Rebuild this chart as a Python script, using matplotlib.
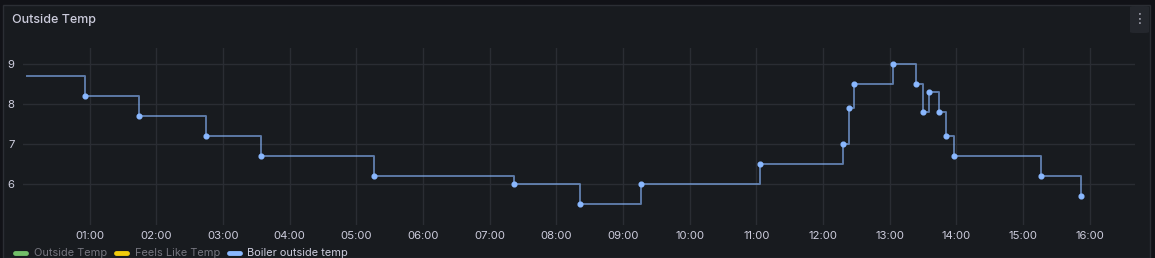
# Grafana-style "Outside Temp" time series panel

import matplotlib.pyplot as plt
from matplotlib.patches import Rectangle, FancyBboxPatch
from matplotlib.lines import Line2D

plt.rcParams['font.family'] = ['Inter', 'DejaVu Sans']

# boiler outside temp readings (HH:MM, degrees)
times = ['00:04', '00:56', '01:44', '02:45', '03:34', '05:16', '07:22', '08:21',
         '09:16', '11:03', '12:18', '12:23', '12:28', '13:03', '13:24', '13:30',
         '13:35', '13:44', '13:51', '13:58', '15:16', '15:52']
temps = [8.7, 8.2, 7.7, 7.2, 6.7, 6.2, 6.0, 5.5,
         6.0, 6.5, 7.0, 7.9, 8.5, 9.0, 8.5, 7.8,
         8.3, 7.8, 7.2, 6.7, 6.2, 5.7]
hour_ticks = list(range(1, 17))
y_ticks = [6, 7, 8, 9]
legend_names = ['Outside Temp', 'Feels Like Temp', 'Boiler outside temp']
legend_colors = ['#73BF69', '#F2CC0C', '#8AB8FF']

W, H = 1155, 258
bg = '#111217'
panel = '#181b1f'
grid_c = '#2a2d33'
text_c = '#ccccdc'

hours = [int(t[:2]) + int(t[3:]) / 60 for t in times]

fig = plt.figure(figsize=(W / 100, H / 100), dpi=100, facecolor=bg)

# panel box
fig.patches.append(Rectangle((3 / W, 0), 1147 / W, (H - 5) / H, transform=fig.transFigure,
                             facecolor=panel, edgecolor='#2b2e34', lw=1, zorder=-2))
# menu button
fig.patches.append(FancyBboxPatch((1130 / W, (H - 33) / H), 19 / W, 27 / H,
                                  boxstyle='round,pad=0,rounding_size=0.004',
                                  transform=fig.transFigure, facecolor='#24272d',
                                  edgecolor='none', zorder=-1))
fig.text(1139.5 / W, (H - 19) / H, '\u22ee', color='#aaaab8', fontsize=10,
         ha='center', va='center')

fig.text(12 / W, (H - 20) / H, 'Outside Temp', color=text_c, fontsize=9.0,
         ha='left', va='center', fontweight='medium')

ax = fig.add_axes([23 / W, 33 / H, 1112 / W, 177 / H])
ax.set_facecolor('none')
for s in ax.spines.values():
    s.set_visible(False)

ax.step(hours, temps, where='post', color='#8AB8FF', alpha=0.6, lw=1.4, zorder=3)
ax.plot(hours[1:], temps[1:], 'o', color='#8AB8FF', ms=3.4, zorder=4)

ax.set_xlim(0, 16.68)
ax.set_ylim(4.975, 9.4)
ax.set_xticks(hour_ticks)
ax.set_xticklabels([f'{h:02d}:00' for h in hour_ticks])
ax.set_yticks(y_ticks)
ax.tick_params(length=0, colors=text_c, labelsize=8.2)
ax.tick_params(axis='x', pad=4)
ax.tick_params(axis='y', pad=6)
ax.grid(True, color=grid_c, lw=1)
ax.set_axisbelow(True)

# legend
lx = [15, 116, 229]
tx = [34, 135, 247]
for i, name in enumerate(legend_names):
    fig.add_artist(Line2D([lx[i] / W, (lx[i] + 11) / W], [(H - 253) / H] * 2,
                          color=legend_colors[i], lw=3.5, solid_capstyle='round',
                          transform=fig.transFigure))
    fig.text(tx[i] / W, (H - 253) / H, name,
             color=text_c if i == 2 else '#76767f', fontsize=7.9,
             ha='left', va='center')

plt.savefig('out.png', dpi=100, facecolor=bg)
